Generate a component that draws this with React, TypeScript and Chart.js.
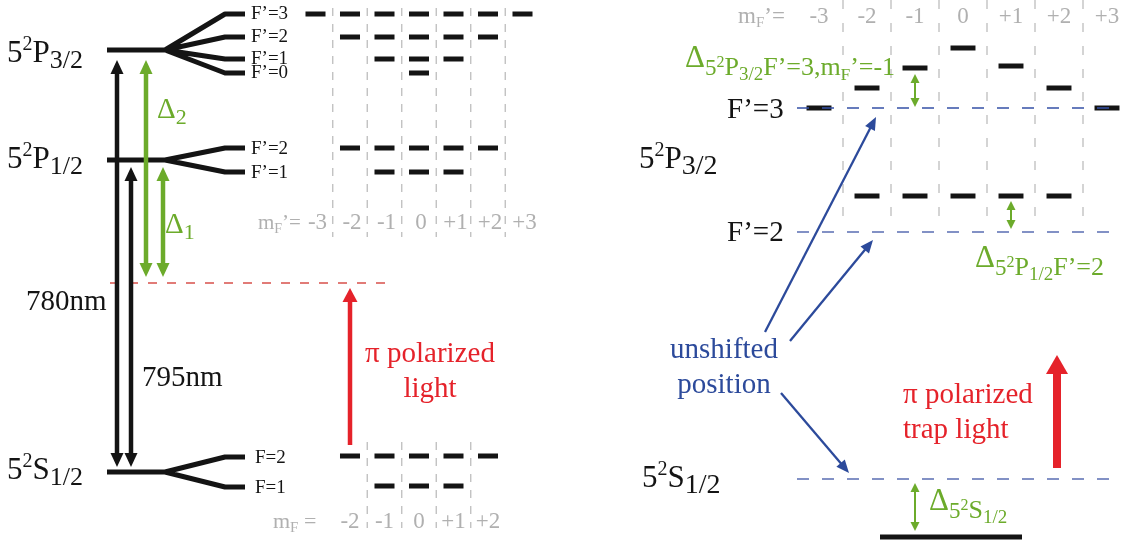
import React, { useEffect, useRef } from "react";
import { Chart, registerables } from "chart.js";
Chart.register(...registerables);

const W = 1131;
const H = 543;
const FONT = '"Liberation Serif", "Times New Roman", serif';

// ---------------- DATA: left panel (energy axis = vertical position) ----------------
const fineLevelTerm = ["P", "P", "S"];
const fineLevelJ = ["3/2", "1/2", "1/2"];
const fineLevelE = [50, 160, 472];

const hfsP32Labels = ["F’=3", "F’=2", "F’=1", "F’=0"];
const hfsP32F = [3, 2, 1, 0];
const hfsP32E = [14, 37, 59, 73];

const hfsP12Labels = ["F’=2", "F’=1"];
const hfsP12F = [2, 1];
const hfsP12E = [148, 172];

const hfsS12Labels = ["F=2", "F=1"];
const hfsS12F = [2, 1];
const hfsS12E = [457, 487];

const virtualLevelE = 283;
const wavelengthLabels = ["780nm", "795nm"];

const mTopTicks = [-3, -2, -1, 0, 1, 2, 3];
const mTopTickLabels = ["-3", "-2", "-1", "0", "+1", "+2", "+3"];
const mBottomTicks = [-2, -1, 0, 1, 2];
const mBottomTickLabels = ["-2", "-1", "0", "+1", "+2"];

// ---------------- DATA: right panel ----------------
const rightMTicks = [-3, -2, -1, 0, 1, 2, 3];
const rightMTickLabels = ["-3", "-2", "-1", "0", "+1", "+2", "+3"];
const shiftedF3M = [-3, -2, -1, 0, 1, 2, 3];
const shiftedF3E = [108, 88, 68, 48, 66, 88, 108];
const shiftedF2M = [-2, -1, 0, 1, 2];
const shiftedF2E = [196, 196, 196, 196, 196];
const unshiftedLabels = ["F’=3", "F’=2"];
const unshiftedE = [108, 232];
const groundUnshiftedE = 479;
const groundShiftedE = 537;

// ---------------- layout / style ----------------
const L = {
  lvlX0: 107, fanX0: 165, fanX1: 225, fanX2: 245,
  mLcenter: 419, mLpitch: 34.5, mLhalf: 0.29,
  mRcenter: 963, mRpitch: 48, mRhalf: 0.26,
  topGridY: [8, 237], botGridY: [442, 528], rightGridY: [0, 216],
  dashLineX: [797, 1119], groundX: [880, 1022], redDashX: [110, 387],
};
const C = {
  black: "#141414", green: "#6cab2b", red: "#e5222a", blue: "#2c4a9b",
  blueDash: "#5a6db3", blueDashDark: "#3450a6", gray: "#bdbdbd", grayText: "#b0b0b0", redDash: "#d8504b",
};

type Pt = { x: number; y: number | null };
function segs(list: number[][]): Pt[] {
  const out: Pt[] = [];
  list.forEach((s) => {
    for (let k = 0; k < s.length; k += 2) out.push({ x: s[k], y: s[k + 1] });
    out.push({ x: s[s.length - 2], y: null });
  });
  return out;
}
function mRange(F: number) {
  const r: number[] = [];
  for (let m = -F; m <= F; m++) r.push(m);
  return r;
}
function ds(data: Pt[], xAxisID: string, color: string, width: number, dash: number[] = []) {
  return {
    type: "scatter" as const, data, xAxisID, yAxisID: "y", showLine: true,
    borderColor: color, backgroundColor: color, borderWidth: width, borderDash: dash,
    pointRadius: 0, pointHoverRadius: 0, fill: false, tension: 0, spanGaps: false,
    borderCapStyle: "butt", borderJoinStyle: "round",
  };
}

type Run = { t: string; s: number; dy?: number };
function drawRuns(ctx: CanvasRenderingContext2D, runs: Run[], x: number, y: number, color: string, align = "left") {
  let w = 0;
  for (const r of runs) { ctx.font = `${r.s}px ${FONT}`; w += ctx.measureText(r.t).width; }
  let cx = align === "center" ? x - w / 2 : align === "right" ? x - w : x;
  ctx.fillStyle = color; ctx.textAlign = "left"; ctx.textBaseline = "alphabetic";
  for (const r of runs) {
    ctx.font = `${r.s}px ${FONT}`;
    ctx.fillText(r.t, cx, y + (r.dy || 0));
    cx += ctx.measureText(r.t).width;
  }
}
function head(ctx: CanvasRenderingContext2D, tx: number, ty: number, ux: number, uy: number, hw: number, hl: number) {
  const bx = tx - ux * hl, by = ty - uy * hl, px = -uy, py = ux;
  ctx.beginPath(); ctx.moveTo(tx, ty);
  ctx.lineTo(bx + (px * hw) / 2, by + (py * hw) / 2);
  ctx.lineTo(bx - (px * hw) / 2, by - (py * hw) / 2);
  ctx.closePath(); ctx.fill();
}
function arrow(ctx: CanvasRenderingContext2D, x1: number, y1: number, x2: number, y2: number,
  o: { w: number; hw: number; hl: number; color: string; both?: boolean }) {
  const dx = x2 - x1, dy = y2 - y1, len = Math.hypot(dx, dy), ux = dx / len, uy = dy / len;
  ctx.strokeStyle = o.color; ctx.fillStyle = o.color; ctx.lineWidth = o.w; ctx.lineCap = "butt";
  const s0 = o.both ? o.hl * 0.8 : 0;
  ctx.beginPath();
  ctx.moveTo(x1 + ux * s0, y1 + uy * s0);
  ctx.lineTo(x2 - ux * o.hl * 0.8, y2 - uy * o.hl * 0.8);
  ctx.stroke();
  head(ctx, x2, y2, ux, uy, o.hw, o.hl);
  if (o.both) head(ctx, x1, y1, -ux, -uy, o.hw, o.hl);
}
const termRuns = (term: string, J: string, big: number, sub: number): Run[] => [
  { t: "5", s: big }, { t: "2", s: 20, dy: -12 }, { t: term, s: big }, { t: J, s: sub, dy: 6 },
];

export default function App() {
  const ref = useRef<HTMLCanvasElement>(null);
  useEffect(() => {
    if (!ref.current) return;
    const mLmin = (0 - L.mLcenter) / L.mLpitch, mLmax = (W - L.mLcenter) / L.mLpitch;
    const mRmin = (0 - L.mRcenter) / L.mRpitch, mRmax = (W - L.mRcenter) / L.mRpitch;

    const fanSegs: number[][] = [];
    const subE = [hfsP32E, hfsP12E, hfsS12E];
    fineLevelE.forEach((E, i) => {
      subE[i].forEach((sE, j) => {
        fanSegs.push(j === 0 ? [L.lvlX0, E, L.fanX0, E, L.fanX1, sE, L.fanX2, sE] : [L.fanX0, E, L.fanX1, sE, L.fanX2, sE]);
      });
    });
    const leftRows: [number, number][] = [];
    hfsP32F.forEach((F, i) => leftRows.push([F, hfsP32E[i]]));
    hfsP12F.forEach((F, i) => leftRows.push([F, hfsP12E[i]]));
    hfsS12F.forEach((F, i) => leftRows.push([F, hfsS12E[i] - 1]));
    const leftDashSegs: number[][] = [];
    leftRows.forEach(([F, E]) => mRange(F).forEach((m) => leftDashSegs.push([m - L.mLhalf, E, m + L.mLhalf, E])));
    const leftDivSegs: number[][] = [];
    mTopTicks.slice(0, -1).forEach((m) => leftDivSegs.push([m + 0.5, L.topGridY[0], m + 0.5, L.topGridY[1]]));
    mBottomTicks.slice(0, -1).forEach((m) => leftDivSegs.push([m + 0.5, L.botGridY[0], m + 0.5, L.botGridY[1]]));

    const rightDashSegs: number[][] = [];
    shiftedF3M.forEach((m, i) => rightDashSegs.push([m - L.mRhalf, shiftedF3E[i], m + L.mRhalf, shiftedF3E[i]]));
    shiftedF2M.forEach((m, i) => rightDashSegs.push([m - L.mRhalf, shiftedF2E[i], m + L.mRhalf, shiftedF2E[i]]));
    const rightDivSegs: number[][] = rightMTicks.slice(0, -1).map((m) => [m + 0.5, L.rightGridY[0], m + 0.5, L.rightGridY[1]]);

    const datasets: any[] = [
      ds(segs(leftDivSegs), "mL", C.gray, 1.3, [8, 8]),
      ds(segs(rightDivSegs), "mR", C.gray, 1.3, [9, 14]),
      ds(segs([[L.redDashX[0], virtualLevelE, L.redDashX[1], virtualLevelE]]), "x", C.redDash, 1.6, [9, 10]),
      ds(segs([[L.dashLineX[0], unshiftedE[0], L.dashLineX[1], unshiftedE[0]]]), "x", C.blueDashDark, 1.3, [12, 13]),
      ds(segs([[L.dashLineX[0], unshiftedE[1], L.dashLineX[1], unshiftedE[1]], [L.dashLineX[0], groundUnshiftedE, L.dashLineX[1], groundUnshiftedE]]), "x", C.blueDash, 1.4, [12, 13]),
      ds(segs(fanSegs), "x", C.black, 5),
      ds(segs(leftDashSegs), "mL", C.black, 5),
      ds(segs(rightDashSegs), "mR", C.black, 5),
      ds(segs([[L.groundX[0], groundShiftedE, L.groundX[1], groundShiftedE]]), "x", C.black, 5),
    ];

    const annotations = {
      id: "annotations",
      afterDatasetsDraw(chart: any) {
        const ctx: CanvasRenderingContext2D = chart.ctx;
        const sx = chart.scales.x, sy = chart.scales.y, sL = chart.scales.mL, sR = chart.scales.mR;
        const X = (v: number) => sx.getPixelForValue(v);
        const Y = (v: number) => sy.getPixelForValue(v);
        const ML = (v: number) => sL.getPixelForValue(v);
        const MR = (v: number) => sR.getPixelForValue(v);
        ctx.save();

        // ---- left panel arrows ----
        const big = { w: 4.5, hw: 13, hl: 14 };
        arrow(ctx, X(117), Y(fineLevelE[2] - 5), X(117), Y(fineLevelE[0] + 10), { ...big, color: C.black, both: true });
        arrow(ctx, X(131), Y(fineLevelE[2] - 5), X(131), Y(fineLevelE[1] + 7), { ...big, color: C.black, both: true });
        arrow(ctx, X(146), Y(virtualLevelE - 6), X(146), Y(fineLevelE[0] + 10), { ...big, color: C.green, both: true });
        arrow(ctx, X(163), Y(virtualLevelE - 6), X(163), Y(fineLevelE[1] + 7), { ...big, color: C.green, both: true });
        arrow(ctx, X(350), Y(445), X(350), Y(virtualLevelE + 5), { w: 4.5, hw: 15, hl: 14, color: C.red });

        // ---- left panel texts ----
        const lblBase = [62, 168, 479];
        fineLevelE.forEach((E, i) => drawRuns(ctx, termRuns(fineLevelTerm[i], fineLevelJ[i], 31, 26), X(7), Y(lblBase[i]), C.black));
        hfsP32Labels.forEach((t, i) => drawRuns(ctx, [{ t, s: 19 }], X(251), Y(hfsP32E[i] + 5), C.black));
        hfsP12Labels.forEach((t, i) => drawRuns(ctx, [{ t, s: 19 }], X(251), Y(hfsP12E[i] + 6), C.black));
        hfsS12Labels.forEach((t, i) => drawRuns(ctx, [{ t, s: 19 }], X(255), Y(hfsS12E[i] + 6), C.black));
        drawRuns(ctx, [{ t: "Δ", s: 29 }, { t: "2", s: 22, dy: 6 }], X(157), Y(118), C.green);
        drawRuns(ctx, [{ t: "Δ", s: 29 }, { t: "1", s: 22, dy: 6 }], X(165), Y(233), C.green);
        drawRuns(ctx, [{ t: wavelengthLabels[0], s: 29 }], X(26), Y(310), C.black);
        drawRuns(ctx, [{ t: wavelengthLabels[1], s: 29 }], X(142), Y(386), C.black);
        drawRuns(ctx, [{ t: "π polarized", s: 29 }], X(430), Y(362), C.red, "center");
        drawRuns(ctx, [{ t: "light", s: 29 }], X(430), Y(397), C.red, "center");

        drawRuns(ctx, [{ t: "m", s: 21 }, { t: "F", s: 14, dy: 4 }, { t: "’=", s: 21 }], X(258), Y(229), C.grayText);
        mTopTicks.forEach((m, i) => drawRuns(ctx, [{ t: mTopTickLabels[i], s: 23 }], ML(m) + 2, Y(229), C.grayText, "center"));
        drawRuns(ctx, [{ t: "m", s: 22 }, { t: "F", s: 15, dy: 4 }, { t: " =", s: 22 }], X(273), Y(528), C.grayText);
        mBottomTicks.forEach((m, i) => drawRuns(ctx, [{ t: mBottomTickLabels[i], s: 23 }], ML(m), Y(528), C.grayText, "center"));

        // ---- right panel ----
        drawRuns(ctx, [{ t: "m", s: 23 }, { t: "F", s: 15, dy: 4 }, { t: "’=", s: 23 }], X(738), Y(23), C.grayText);
        rightMTicks.forEach((m, i) => drawRuns(ctx, [{ t: rightMTickLabels[i], s: 23 }], MR(m), Y(23), C.grayText, "center"));
        drawRuns(ctx, [{ t: unshiftedLabels[0], s: 29 }], X(727), Y(unshiftedE[0] + 10), C.black);
        drawRuns(ctx, [{ t: unshiftedLabels[1], s: 29 }], X(727), Y(unshiftedE[1] + 9), C.black);
        drawRuns(ctx, termRuns("P", "3/2", 31, 28), X(639), Y(168), C.black);
        drawRuns(ctx, termRuns("S", "1/2", 31, 28), X(642), Y(487), C.black);
        drawRuns(ctx, [{ t: "unshifted", s: 29 }], X(724), Y(358), C.blue, "center");
        drawRuns(ctx, [{ t: "position", s: 29 }], X(724), Y(393), C.blue, "center");
        drawRuns(ctx, [{ t: "π polarized", s: 29 }], X(903), Y(403), C.red);
        drawRuns(ctx, [{ t: "trap light", s: 29 }], X(903), Y(438), C.red);

        const thin = { w: 2, hw: 9, hl: 9, color: C.green, both: true };
        arrow(ctx, MR(-1), Y(shiftedF3E[2] + 6), MR(-1), Y(unshiftedE[0] - 1), thin);
        arrow(ctx, MR(1), Y(shiftedF2E[3] + 5), MR(1), Y(unshiftedE[1] - 3), thin);
        arrow(ctx, X(915), Y(groundUnshiftedE + 4), X(915), Y(groundShiftedE - 6), thin);
        drawRuns(ctx, [{ t: "Δ", s: 31 }, { t: "5", s: 23, dy: 8 }, { t: "2", s: 16, dy: 0 }, { t: "P", s: 26, dy: 8 },
          { t: "3/2", s: 19, dy: 13 }, { t: "F’=3,m", s: 26, dy: 8 }, { t: "F", s: 17, dy: 13 }, { t: "’=-1", s: 26, dy: 8 }], X(685), Y(67), C.green);
        drawRuns(ctx, [{ t: "Δ", s: 31 }, { t: "5", s: 23, dy: 8 }, { t: "2", s: 16, dy: 0 }, { t: "P", s: 26, dy: 8 },
          { t: "1/2", s: 19, dy: 13 }, { t: "F’=2", s: 26, dy: 8 }], X(975), Y(267), C.green);
        drawRuns(ctx, [{ t: "Δ", s: 31 }, { t: "5", s: 23, dy: 8 }, { t: "2", s: 16, dy: 0 }, { t: "S", s: 26, dy: 8 },
          { t: "1/2", s: 19, dy: 13 }], X(929), Y(510), C.green);

        const bl = { w: 2.3, hw: 11, hl: 13, color: C.blue };
        arrow(ctx, X(765), Y(332), X(876), Y(117), bl);
        arrow(ctx, X(790), Y(341), X(873), Y(240), bl);
        arrow(ctx, X(781), Y(393), X(849), Y(473), bl);

        arrow(ctx, X(1057), Y(468), X(1057), Y(355), { w: 8, hw: 22, hl: 19, color: C.red });
        ctx.restore();
      },
    };

    const chart = new Chart(ref.current, {
      type: "scatter",
      data: { datasets },
      options: {
        animation: false, responsive: false, events: [],
        layout: { padding: 0 },
        plugins: { legend: { display: false }, tooltip: { enabled: false }, title: { display: false } },
        scales: {
          x: { type: "linear", min: 0, max: W, display: false },
          mL: { type: "linear", axis: "x", min: mLmin, max: mLmax, display: false },
          mR: { type: "linear", axis: "x", min: mRmin, max: mRmax, display: false },
          y: { type: "linear", min: 0, max: H, reverse: true, display: false },
        },
      } as any,
      plugins: [annotations],
    });
    return () => chart.destroy();
  }, []);
  return (
    <div style={{ position: "absolute", left: 0, top: 0, width: W, height: H, background: "#fff" }}>
      <canvas ref={ref} width={W} height={H} style={{ display: "block" }} />
    </div>
  );
}
